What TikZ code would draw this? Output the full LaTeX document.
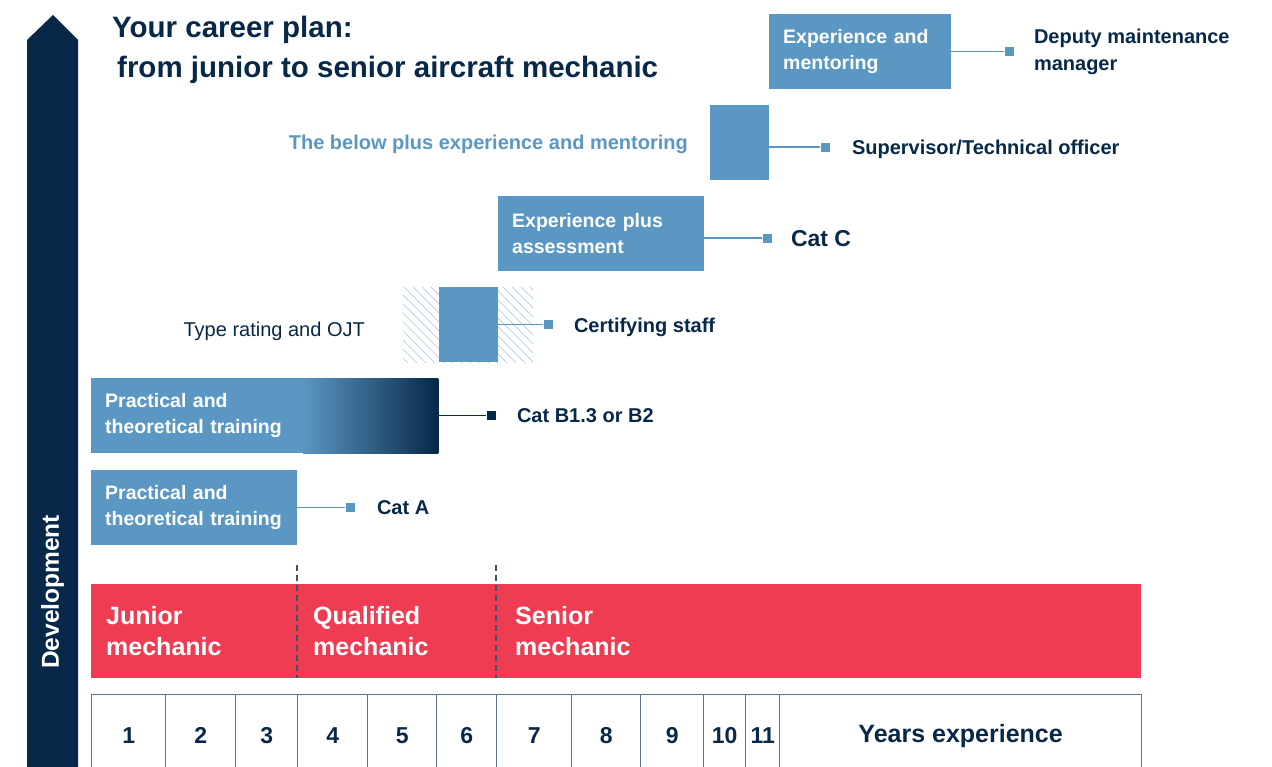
\documentclass[tikz,border=0pt]{standalone}
\usepackage{fontspec}
\setmainfont{Liberation Sans}
\usetikzlibrary{positioning}
\definecolor{navy}{HTML}{072848}
\definecolor{careerblue}{HTML}{5A97C3}
\definecolor{careerred}{HTML}{EE3C52}
\definecolor{gridline}{HTML}{5F7388}

\begin{document}
\begin{tikzpicture}[x=1pt,y=-1pt,
	box/.style={fill=careerblue,anchor=north west,inner xsep=14pt,inner ysep=0pt,minimum height=75pt,text width=#1,align=left,text=white,font=\fontsize{19.5}{26}\selectfont\bfseries},
	endsq/.style={fill=careerblue,minimum size=9pt,inner sep=0pt},
	link/.style={careerblue,line width=1.5pt},
	goal/.style={anchor=west,inner sep=0pt,align=left,text=navy,font=\fontsize{20}{27}\selectfont\bfseries},
	phase/.style={anchor=west,inner sep=0pt,align=left,text=white,font=\fontsize{25}{31}\selectfont\bfseries},
	yearcell/.style={draw=gridline,line width=1.3pt,anchor=north west,minimum height=82pt,inner sep=0pt,text=navy,font=\fontsize{23}{23}\selectfont\bfseries},
	divider/.style={navy!80,line width=1.2pt,dash pattern=on 6pt off 4pt}]
			\useasboundingbox (0,0) rectangle (1272,767);
			\clip (0,0) rectangle (1272,767);
			
			\fill[navy] (27,800) -- (27,40) -- (53,15) -- (78,40) -- (78,800) -- cycle;
			\node[rotate=90,text=white,font=\fontsize{24.5}{24}\selectfont\bfseries] (dev) at (52.5,592) {Development};
			\node[anchor=west,inner sep=0pt,align=left,text=navy,font=\fontsize{29.5}{40}\selectfont\bfseries] (title) at (112,50) {Your career plan:\\\hspace{5pt}from junior to senior aircraft mechanic};
			
			\node[box=154pt] (b1) at (769,14) {Experience and\\mentoring};
			\node[endsq,right=53pt of b1] (m1) {};
			\draw[link] (b1.east |- m1) -- (m1);
			\node[goal,right=20pt of m1] (g1) {Deputy maintenance\\manager};
			
			\node[box=31pt] (b2) at (710,105) {};
			\node[endsq,right=51pt of b2,yshift=-4.5pt] (m2) {};
			\draw[link] (b2.east |- m2) -- (m2);
			\node[goal,right=22pt of m2,yshift=-2.5pt] (g2) {Supervisor/Technical officer};
			\node[goal,anchor=east,text=careerblue,left=22pt of b2,yshift=-2pt] (l2) {The below plus experience and mentoring};
			
			\node[box=178pt] (b3) at (498,196) {Experience plus\\assessment};
			\node[endsq,right=58pt of b3,yshift=-4.5pt] (m3) {};
			\draw[link] (b3.east |- m3) -- (m3);
			\node[goal,right=19pt of m3,font=\fontsize{23}{27}\selectfont\bfseries] (g3) {Cat C};
			
			\node[anchor=north west,minimum width=130pt,minimum height=75pt,inner sep=0pt,
				path picture={\foreach \k in {-80,-71,...,140}
					\draw[careerblue!50,line width=0.7pt] ([xshift=\k pt]path picture bounding box.north west) -- ++(80,80);}] (hatch) at (403,287) {};
			\node[box=31pt] (b4) at (439,287) {};
			\node[endsq,right=45pt of b4] (m4) {};
			\draw[link] (b4.east |- m4) -- (m4);
			\node[goal,right=21pt of m4,yshift=-2.5pt] (g4) {Certifying staff};
			\node[goal,anchor=east,left=38pt of hatch,yshift=-7pt,font=\fontsize{20}{27}\selectfont] (l4) {Type rating and OJT};
			
			\node[box=319pt] (b5) at (91,378) {Practical and\\theoretical training};
			\shade[left color=careerblue,right color=navy] ([xshift=212pt]b5.north west) rectangle (b5.south east);
			\node[endsq,fill=navy,right=48pt of b5] (m5) {};
			\draw[link,navy] (b5.east |- m5) -- (m5);
			\node[goal,right=21pt of m5] (g5) {Cat B1.3 or B2};
			
			\node[box=178pt] (b6) at (91,470) {Practical and\\theoretical training};
			\node[endsq,right=48pt of b6] (m6) {};
			\draw[link] (b6.east |- m6) -- (m6);
			\node[goal,right=22pt of m6] (g6) {Cat A};
			
			\node[fill=careerred,anchor=north west,minimum width=1050pt,minimum height=94pt,inner sep=0pt] (band) at (91,584) {};
			\node[phase] (p1) at ([xshift=15pt]band.west) {Junior\\mechanic};
			\node[phase] (p2) at ([xshift=222pt]band.west) {Qualified\\mechanic};
			\node[phase] (p3) at ([xshift=424pt]band.west) {Senior\\mechanic};
			\draw[divider] (297,565) -- (297,678);
			\draw[divider] (496,565) -- (496,678);
			
			\foreach \lft/\cw/\yr in {91/74/1,165/70/2,235/62/3,297/70/4,367/69/5,436/60/6,496/75/7,571/69/8,640/63/9,703/42/10,745/34/11}
				\node[yearcell,minimum width=\cw pt] (y\yr) at (\lft,694) {\yr};
			\node[yearcell,minimum width=362pt,font=\fontsize{25}{25}\selectfont\bfseries] (yexp) at (779,694) {Years experience};
		\end{tikzpicture}
\end{document}
